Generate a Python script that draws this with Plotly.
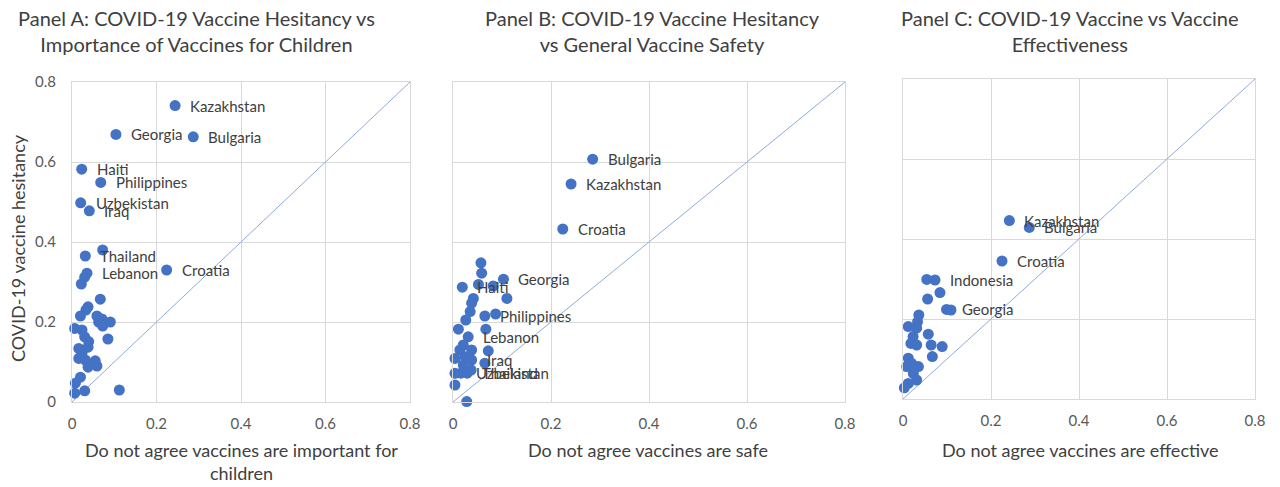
import plotly.graph_objects as go

# ---------------- data ----------------
# Panel A: importance of vaccines for children
a_countries = ["Kazakhstan", "Georgia", "Bulgaria", "Haiti", "Philippines", "Uzbekistan", "Iraq",
               "Thailand", "Lebanon", "Croatia"] + [""] * 30
a_x = [0.244, 0.104, 0.287, 0.023, 0.068, 0.0205, 0.041, 0.0315, 0.0355, 0.224,
       0.0726, 0.030, 0.022, 0.067, 0.038, 0.033, 0.020, 0.059, 0.071, 0.0907,
       0.063, 0.0726, 0.0064, 0.0237, 0.030, 0.085, 0.0395, 0.016, 0.038, 0.0237,
       0.016, 0.0315, 0.055, 0.038, 0.059, 0.020, 0.008, 0.0064, 0.030, 0.112]
a_y = [0.741, 0.669, 0.663, 0.582, 0.549, 0.498, 0.478, 0.365, 0.322, 0.330,
       0.380, 0.312, 0.295, 0.257, 0.238, 0.230, 0.215, 0.215, 0.2075, 0.200,
       0.200, 0.190, 0.184, 0.180, 0.163, 0.1575, 0.151, 0.134, 0.137, 0.122,
       0.109, 0.105, 0.103, 0.087, 0.090, 0.062, 0.047, 0.022, 0.028, 0.030]

# Panel B: general vaccine safety
b_countries = ["Bulgaria", "Kazakhstan", "Croatia", "Georgia", "Haiti", "Philippines", "Lebanon",
               "Iraq", "Uzbekistan", "Thailand"] + [""] * 24
b_x = [0.285, 0.241, 0.224, 0.103, 0.019, 0.065, 0.031, 0.038, 0.016, 0.029,
       0.057, 0.0585, 0.052, 0.082, 0.110, 0.0415, 0.038, 0.035, 0.026, 0.087,
       0.011, 0.067, 0.021, 0.038, 0.072, 0.014, 0.004, 0.0245, 0.065, 0.021,
       0.004, 0.037, 0.004, 0.028]
b_y = [0.607, 0.545, 0.4325, 0.307, 0.287, 0.215, 0.163, 0.105, 0.072, 0.072,
       0.348, 0.322, 0.294, 0.290, 0.259, 0.259, 0.247, 0.226, 0.205, 0.220,
       0.182, 0.182, 0.1425, 0.130, 0.128, 0.130, 0.109, 0.113, 0.097, 0.0925,
       0.0717, 0.080, 0.0425, 0.001]

# Panel C: vaccine effectiveness
c_countries = ["Kazakhstan", "Bulgaria", "Croatia", "Indonesia", "Georgia"] + [""] * 23
c_x = [0.2417, 0.287, 0.225, 0.0727, 0.099,
       0.054, 0.084, 0.056, 0.109, 0.036, 0.033, 0.012, 0.031, 0.0575, 0.023,
       0.018, 0.031, 0.064, 0.089, 0.0667, 0.012, 0.0197, 0.0084, 0.035, 0.0235,
       0.031, 0.012, 0.003]
c_y = [0.446, 0.429, 0.345, 0.2975, 0.224,
       0.299, 0.266, 0.250, 0.2225, 0.210, 0.193, 0.181, 0.177, 0.162, 0.156,
       0.139, 0.135, 0.135, 0.131, 0.106, 0.102, 0.089, 0.081, 0.081, 0.064,
       0.0475, 0.039, 0.028]

tick_vals = [0, 0.2, 0.4, 0.6, 0.8]
tick_text = ["0", "0.2", "0.4", "0.6", "0.8"]
diag = [0, 0.8]

panel_titles = ["Panel A: COVID-19 Vaccine Hesitancy vs<br>Importance of Vaccines for Children",
                "Panel B: COVID-19 Vaccine Hesitancy<br>vs General Vaccine Safety",
                "Panel C: COVID-19 Vaccine vs Vaccine<br>Effectiveness"]
x_titles = ["Do not agree vaccines are important for<br>children",
            "Do not agree vaccines are safe",
            "Do not agree vaccines are effective"]
y_title = "COVID-19 vaccine hesitancy"

# ---------------- style ----------------
W, H = 1280, 487
FONT = "Lato"
MARK = "#4472C4"
GRID = "#d9d9d9"
TXT = "#404040"
TICK = "#595959"

def px(v):
    return v / W

def py(v):
    return 1 - v / H

panels = [
    dict(xs=a_x, ys=a_y, names=a_countries, xd=[px(72), px(410)], yd=[py(402), py(82)],
         title_x=px(196), xt_x=px(241), show_y=True),
    dict(xs=b_x, ys=b_y, names=b_countries, xd=[px(453), px(845)], yd=[py(402), py(82)],
         title_x=px(652), xt_x=px(648), show_y=False),
    dict(xs=c_x, ys=c_y, names=c_countries, xd=[px(903), px(1255)], yd=[py(399), py(79)],
         title_x=px(1069), xt_x=px(1080), show_y=False),
]

fig = go.Figure()
annotations = []
layout_axes = {}

for i, p in enumerate(panels):
    n = "" if i == 0 else str(i + 1)
    xa, ya = "x" + n, "y" + n
    fig.add_trace(go.Scatter(x=diag, y=diag, mode="lines", xaxis=xa, yaxis=ya,
                             line=dict(color="#8eaadb", width=1), hoverinfo="skip",
                             showlegend=False))
    fig.add_trace(go.Scatter(x=p["xs"], y=p["ys"], mode="markers", xaxis=xa, yaxis=ya,
                             marker=dict(color=MARK, size=11, line=dict(width=0)),
                             cliponaxis=False, text=p["names"], showlegend=False))
    for xv, yv, name in zip(p["xs"], p["ys"], p["names"]):
        if name:
            annotations.append(dict(x=xv, y=yv, xref=xa, yref=ya, text=name, showarrow=False,
                                    xanchor="left", yanchor="middle", xshift=13,
                                    font=dict(family=FONT, size=15, color=TXT)))
    layout_axes["xaxis" + n] = dict(
        domain=p["xd"], range=[0, 0.8], anchor=ya, tickvals=tick_vals, ticktext=tick_text,
        showgrid=True, gridcolor=GRID, gridwidth=1, zeroline=False,
        showline=True, linecolor=GRID, linewidth=1, mirror=True, automargin=False,
        ticks="", ticklabelstandoff=8,
        tickfont=dict(family=FONT, size=15, color=TICK), fixedrange=True)
    layout_axes["yaxis" + n] = dict(
        domain=p["yd"], range=[0, 0.8], anchor=xa, tickvals=tick_vals, ticktext=tick_text,
        showgrid=True, gridcolor=GRID, gridwidth=1, zeroline=False,
        showline=True, linecolor=GRID, linewidth=1, mirror=True, automargin=False,
        ticks="", ticklabelstandoff=12, showticklabels=p["show_y"],
        tickfont=dict(family=FONT, size=15, color=TICK), fixedrange=True)
    # panel title
    annotations.append(dict(x=p["title_x"], y=py(31), xref="paper", yref="paper",
                            text=panel_titles[i], showarrow=False, xanchor="center",
                            yanchor="middle", align="center",
                            font=dict(family=FONT, size=20, color=TXT)))
    # x-axis title
    annotations.append(dict(x=p["xt_x"], y=py(437), xref="paper", yref="paper",
                            text=x_titles[i], showarrow=False, xanchor="center",
                            yanchor="top", align="center",
                            font=dict(family=FONT, size=18, color=TXT)))

annotations.append(dict(x=px(18), y=py(248), xref="paper", yref="paper", text=y_title,
                        textangle=-90, showarrow=False, xanchor="center", yanchor="middle",
                        font=dict(family=FONT, size=18, color=TXT)))

fig.update_layout(width=W, height=H,
                  margin=dict(l=0, r=0, t=0, b=0, pad=0, autoexpand=False),
                  paper_bgcolor="white", plot_bgcolor="white", hovermode=False,
                  annotations=annotations, showlegend=False, **layout_axes)

fig.write_html("out.html", config={"displayModeBar": False, "staticPlot": True},
               post_script="document.body.style.margin='0';document.body.style.overflow='hidden';")
